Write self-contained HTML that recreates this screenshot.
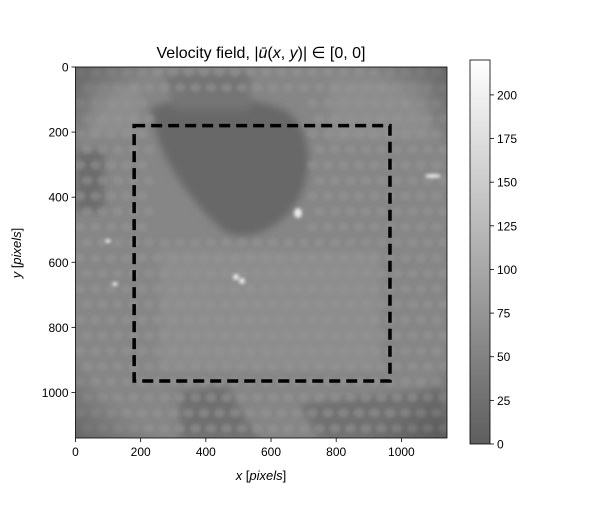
<!DOCTYPE html>
<html><head><meta charset="utf-8"><style>
html,body{margin:0;padding:0;background:#fff;}
svg text{font-family:"Liberation Sans","DejaVu Sans",sans-serif;}
</style></head><body>
<svg id="chart" width="600" height="500" viewBox="0 0 600 500" xmlns="http://www.w3.org/2000/svg">
<defs>
<filter id="blur" x="-20%" y="-20%" width="140%" height="140%"><feGaussianBlur stdDeviation="4"/></filter>
<filter id="blur2"><feGaussianBlur stdDeviation="1.5"/></filter>
<linearGradient id="cbar" x1="0" y1="1" x2="0" y2="0"><stop offset="0" stop-color="#5e5e5e"/><stop offset="1" stop-color="#ffffff"/></linearGradient>
<clipPath id="imgclip"><rect x="75.5" y="67" width="371.5" height="371"/></clipPath>
<radialGradient id="vig" cx="0.5" cy="0.5" r="0.72"><stop offset="0.78" stop-color="#000" stop-opacity="0"/><stop offset="1" stop-color="#000" stop-opacity="0.25"/></radialGradient>
</defs>
<text x="261" y="58" font-size="16" text-anchor="middle">Velocity field, |<tspan font-style="italic">ū</tspan>(<tspan font-style="italic">x</tspan>, <tspan font-style="italic">y</tspan>)| ∈ [0, 0]</text>
<g clip-path="url(#imgclip)">
<rect x="75.5" y="67" width="371.5" height="371" fill="#868686"/>
<g filter="url(#blur)">
<path d="M150,108 Q170,100 210,100 Q250,96 285,110 Q312,130 308,170 Q300,215 262,232 Q240,240 225,232 Q205,215 190,195 Q170,170 158,140 Z" fill="#686868"/>
<path d="M165,72 L250,72 L250,110 L175,110 Z" fill="#747474"/>
<rect x="76" y="150" width="28" height="62" fill="#6d6d6d"/>
<path d="M180,392 L228,386 Q242,420 262,440 L180,440 Z" fill="#6f6f6f"/>
<path d="M300,404 L440,388 L447,440 L320,440 Z" fill="#717171"/>
<rect x="90" y="85" width="50" height="50" fill="#8e8e8e"/>
<rect x="330" y="80" width="100" height="60" fill="#8d8d8d"/>
<rect x="160" y="250" width="220" height="120" fill="#8d8d8d"/>
</g>
<g id="cells" filter="url(#blur2)" fill="#959595" opacity="0.55"></g>
<g fill="#e8e8e8" filter="url(#blur2)">
<ellipse cx="298" cy="213" rx="4" ry="5"/><ellipse cx="108" cy="241" rx="3" ry="2"/><ellipse cx="115" cy="284" rx="3" ry="2"/>
<ellipse cx="236" cy="277" rx="3" ry="3"/><ellipse cx="242" cy="281" rx="3" ry="3"/><ellipse cx="433" cy="176" rx="8" ry="2"/>
</g>
<rect x="75.5" y="67" width="371.5" height="371" fill="url(#vig)"/>
</g>
<rect x="75.5" y="67" width="371.5" height="371" fill="none" stroke="#000" stroke-width="0.8"/>
<rect id="roi" fill="none" stroke="#000" stroke-width="3.5" stroke-dasharray="11,6"/>
<g id="xticks"></g>
<g id="yticks"></g>
<text x="261" y="480" font-size="13" text-anchor="middle"><tspan font-style="italic">x</tspan> [<tspan font-style="italic">pixels</tspan>]</text>
<text transform="translate(21,253) rotate(-90)" font-size="13" text-anchor="middle"><tspan font-style="italic">y</tspan> [<tspan font-style="italic">pixels</tspan>]</text>
<rect x="470" y="60" width="20" height="384" fill="url(#cbar)" stroke="#000" stroke-width="0.8"/>
<g id="cticks"></g>
</svg>
<script>
const xTicks=[0,200,400,600,800,1000];
const yTicks=[0,200,400,600,800,1000];
const cTicks=[0,25,50,75,100,125,150,175,200];
const roiX=[180,965];
const roiY=[180,965];
const imgSize=[1140,1140];
const cMax=[220];
const NS="http://www.w3.org/2000/svg";
const X0=75.5,X1=447,Y0=67,Y1=438;
const sx=v=>X0+v/imgSize[0]*(X1-X0);
const sy=v=>Y0+v/imgSize[1]*(Y1-Y0);
const cy=v=>444-v/cMax[0]*384;
function mk(tag,attrs,parent){const e=document.createElementNS(NS,tag);for(const k in attrs)e.setAttribute(k,attrs[k]);parent.appendChild(e);return e;}
const roi=document.getElementById('roi');
roi.setAttribute('x',sx(roiX[0]));roi.setAttribute('y',sy(roiY[0]));
roi.setAttribute('width',sx(roiX[1])-sx(roiX[0]));roi.setAttribute('height',sy(roiY[1])-sy(roiY[0]));
const gx=document.getElementById('xticks');
xTicks.forEach(v=>{const l=mk('line',{x1:sx(v),x2:sx(v),y1:Y1,y2:Y1+4,stroke:'#000','stroke-width':0.8},gx);


const t=mk('text',{x:sx(v),y:Y1+18,'font-size':12,'text-anchor':'middle'},gx);t.textContent=v;

});
const gy=document.getElementById('yticks');
yTicks.forEach(v=>{const l=mk('line',{x1:X0-4,x2:X0,y1:sy(v),y2:sy(v),stroke:'#000','stroke-width':0.8},gy);


const t=mk('text',{x:X0-7,y:sy(v)+4.5,'font-size':12,'text-anchor':'end'},gy);t.textContent=v;

});
const gc=document.getElementById('cticks');
cTicks.forEach(v=>{const l=mk('line',{x1:490,x2:494,y1:cy(v),y2:cy(v),stroke:'#000','stroke-width':0.8},gc);


const t=mk('text',{x:497,y:cy(v)+4.5,'font-size':12},gc);t.textContent=v;

});
// decorative cell texture
const cg=document.getElementById('cells');
for(let i=0;i<24;i++)for(let j=0;j<24;j++){
 const x=80+i*15.5+((j%2)*7),y=72+j*15.5;
 if(x>150&&x<312&&y<238&&y>95)continue;
 const e=mk('ellipse',{cx:x,cy:y,rx:5.5,ry:4.5},cg);
 
 
}
</script>
</body></html>
